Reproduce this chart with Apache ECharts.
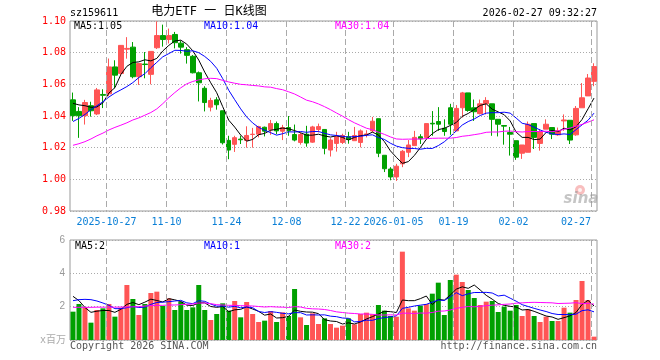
<!DOCTYPE html>
<html><head><meta charset="utf-8">
<script src="https://cdn.jsdelivr.net/npm/echarts@6/dist/echarts.min.js"></script>
<style>html,body{margin:0;padding:0;background:#fff}#c{width:660px;height:360px}</style>
</head><body><div id="c"></div>
<script>
const dates = ['2025-10-17',
'2025-10-20','2025-10-21','2025-10-22','2025-10-23','2025-10-24',
'2025-10-27','2025-10-28','2025-10-29','2025-10-30','2025-10-31',
'2025-11-03','2025-11-04','2025-11-05','2025-11-06','2025-11-07',
'2025-11-10','2025-11-11','2025-11-12','2025-11-13','2025-11-14',
'2025-11-17','2025-11-18','2025-11-19','2025-11-20','2025-11-21',
'2025-11-24','2025-11-25','2025-11-26','2025-11-27','2025-11-28',
'2025-12-01','2025-12-02','2025-12-03','2025-12-04','2025-12-05',
'2025-12-08','2025-12-09','2025-12-10','2025-12-11','2025-12-12',
'2025-12-15','2025-12-16','2025-12-17','2025-12-18','2025-12-19',
'2025-12-22','2025-12-23','2025-12-24','2025-12-25','2025-12-26',
'2025-12-29','2025-12-30','2025-12-31',
'2026-01-05','2026-01-06','2026-01-07','2026-01-08','2026-01-09',
'2026-01-12','2026-01-13','2026-01-14','2026-01-15','2026-01-16',
'2026-01-19','2026-01-20','2026-01-21','2026-01-22','2026-01-23',
'2026-01-26','2026-01-27','2026-01-28','2026-01-29','2026-01-30',
'2026-02-02','2026-02-03','2026-02-04','2026-02-05','2026-02-06',
'2026-02-09','2026-02-10','2026-02-11','2026-02-12','2026-02-13',
'2026-02-24','2026-02-25','2026-02-26','2026-02-27'];

const opens = [1.0502,1.0429,1.0402,1.0465,1.0413,1.0536,1.0540,1.0710,1.0669,1.0822,
1.0835,1.0648,1.0728,1.0663,1.0831,1.0908,1.0883,1.0915,1.0860,1.0819,
1.0777,1.0673,1.0575,1.0456,1.0502,1.0433,1.0246,1.0221,1.0254,1.0246,
1.0283,1.0285,1.0329,1.0313,1.0352,1.0304,1.0327,1.0283,1.0233,1.0285,
1.0235,1.0315,1.0315,1.0185,1.0227,1.0233,1.0269,1.0244,1.0233,1.0283,
1.0306,1.0383,1.0152,1.0065,1.0015,1.0098,1.0171,1.0213,1.0269,1.0265,
1.0354,1.0365,1.0323,1.0452,1.0306,1.0452,1.0546,1.0452,1.0415,1.0477,
1.0477,1.0379,1.0340,1.0296,1.0244,1.0165,1.0171,1.0352,1.0227,1.0317,
1.0327,1.0281,1.0369,1.0373,1.0281,1.0452,1.0527,1.0619];
const closes = [1.0402,1.0402,1.0485,1.0433,1.0565,1.0531,1.0710,1.0658,1.0846,1.0827,
1.0648,1.0731,1.0725,1.0808,1.0908,1.0883,1.0908,1.0863,1.0835,1.0783,
1.0673,1.0610,1.0485,1.0498,1.0471,1.0231,1.0185,1.0263,1.0250,1.0277,
1.0285,1.0333,1.0304,1.0352,1.0306,1.0327,1.0306,1.0248,1.0283,1.0229,
1.0331,1.0333,1.0196,1.0248,1.0269,1.0277,1.0252,1.0277,1.0306,1.0287,
1.0367,1.0165,1.0067,1.0015,1.0083,1.0177,1.0217,1.0265,1.0256,1.0352,
1.0350,1.0348,1.0302,1.0348,1.0448,1.0546,1.0435,1.0427,1.0477,1.0498,
1.0379,1.0348,1.0336,1.0285,1.0140,1.0217,1.0348,1.0265,1.0300,1.0348,
1.0285,1.0306,1.0375,1.0248,1.0448,1.0515,1.0640,1.0712];
const lows = [1.0369,1.0262,1.0346,1.0396,1.0406,1.0450,1.0525,1.0575,1.0660,1.0762,
1.0638,1.0596,1.0638,1.0600,1.0823,1.0838,1.0858,1.0827,1.0794,1.0731,
1.0669,1.0492,1.0429,1.0429,1.0440,1.0220,1.0127,1.0173,1.0223,1.0200,
1.0200,1.0265,1.0271,1.0281,1.0285,1.0248,1.0275,1.0240,1.0219,1.0206,
1.0231,1.0296,1.0158,1.0144,1.0175,1.0223,1.0225,1.0244,1.0202,1.0265,
1.0296,1.0140,1.0046,0.9994,0.9990,1.0077,1.0140,1.0213,1.0223,1.0254,
1.0275,1.0306,1.0275,1.0281,1.0306,1.0390,1.0427,1.0369,1.0410,1.0410,
1.0275,1.0271,1.0219,1.0150,1.0123,1.0129,1.0171,1.0192,1.0181,1.0317,
1.0254,1.0275,1.0306,1.0223,1.0275,1.0452,1.0527,1.0588];
const highs = [1.0548,1.0456,1.0502,1.0490,1.0577,1.0569,1.0763,1.0752,1.0848,1.0898,
1.0867,1.0731,1.0804,1.0808,1.0998,1.0977,1.0952,1.0931,1.0877,1.0835,
1.0785,1.0681,1.0588,1.0515,1.0519,1.0433,1.0275,1.0275,1.0275,1.0335,
1.0325,1.0338,1.0333,1.0375,1.0365,1.0344,1.0400,1.0346,1.0294,1.0338,
1.0338,1.0352,1.0315,1.0260,1.0300,1.0288,1.0300,1.0331,1.0315,1.0310,
1.0394,1.0383,1.0152,1.0077,1.0098,1.0185,1.0248,1.0306,1.0285,1.0352,
1.0431,1.0456,1.0379,1.0477,1.0469,1.0552,1.0546,1.0504,1.0504,1.0519,
1.0477,1.0379,1.0340,1.0331,1.0244,1.0217,1.0365,1.0352,1.0317,1.0379,
1.0327,1.0327,1.0410,1.0373,1.0463,1.0608,1.0665,1.0733];

const volumes = [1.70,2.16,1.96,1.04,1.80,1.90,2.16,1.40,1.94,3.30,
2.46,1.50,2.16,2.82,2.90,2.04,2.50,1.80,2.30,1.80,
1.96,3.30,1.80,1.20,1.56,2.20,1.76,2.34,1.36,2.28,
1.56,1.08,1.16,1.74,1.08,1.66,1.44,3.06,1.36,0.90,
1.60,0.96,1.30,0.96,0.74,0.86,1.30,0.94,1.56,1.64,
1.54,2.10,1.76,1.44,1.40,5.30,1.90,1.76,2.06,2.16,
2.78,3.44,1.50,3.60,3.92,3.48,3.00,2.52,2.10,2.30,
2.34,1.68,2.00,1.76,2.10,1.44,1.84,1.44,1.08,1.40,
1.14,1.14,1.94,1.64,2.40,3.54,2.40,0.20];

const ma5 = [1.0480,1.0470,1.0465,1.0455,1.0457,1.0483,1.0545,1.0579,1.0662,1.0714,
1.0738,1.0742,1.0755,1.0748,1.0764,1.0811,1.0846,1.0874,1.0879,1.0854,
1.0812,1.0753,1.0677,1.0610,1.0547,1.0459,1.0374,1.0330,1.0280,1.0241,
1.0252,1.0282,1.0290,1.0310,1.0316,1.0324,1.0319,1.0308,1.0294,1.0279,
1.0279,1.0285,1.0274,1.0267,1.0275,1.0265,1.0248,1.0265,1.0276,1.0280,
1.0298,1.0280,1.0238,1.0180,1.0139,1.0101,1.0112,1.0151,1.0200,1.0253,
1.0288,1.0314,1.0322,1.0340,1.0359,1.0398,1.0416,1.0441,1.0467,1.0477,
1.0443,1.0426,1.0408,1.0369,1.0298,1.0265,1.0265,1.0251,1.0254,1.0296,
1.0309,1.0301,1.0323,1.0312,1.0332,1.0378,1.0445,1.0513];
const ma10 = [1.0365,1.0385,1.0410,1.0440,1.0465,1.0490,1.0520,1.0545,1.0565,1.0586,
1.0611,1.0643,1.0667,1.0705,1.0739,1.0774,1.0794,1.0815,1.0814,1.0809,
1.0812,1.0800,1.0776,1.0745,1.0701,1.0636,1.0563,1.0503,1.0445,1.0394,
1.0356,1.0328,1.0310,1.0295,1.0279,1.0288,1.0300,1.0299,1.0302,1.0297,
1.0302,1.0302,1.0291,1.0281,1.0277,1.0272,1.0267,1.0270,1.0272,1.0278,
1.0281,1.0264,1.0252,1.0228,1.0210,1.0200,1.0196,1.0195,1.0190,1.0196,
1.0195,1.0213,1.0237,1.0270,1.0306,1.0343,1.0365,1.0381,1.0403,1.0418,
1.0421,1.0421,1.0424,1.0418,1.0387,1.0354,1.0346,1.0329,1.0312,1.0297,
1.0287,1.0283,1.0287,1.0283,1.0314,1.0344,1.0373,1.0418];
const ma30 = [1.0215,1.0225,1.0238,1.0255,1.0275,1.0292,1.0312,1.0328,1.0342,1.0357,
1.0375,1.0388,1.0405,1.0422,1.0445,1.0478,1.0515,1.0548,1.0578,1.0603,
1.0618,1.0628,1.0635,1.0638,1.0636,1.0625,1.0615,1.0607,1.0600,1.0597,
1.0593,1.0590,1.0584,1.0582,1.0573,1.0566,1.0553,1.0539,1.0520,1.0500,
1.0490,1.0476,1.0459,1.0440,1.0419,1.0399,1.0377,1.0357,1.0340,1.0323,
1.0313,1.0298,1.0284,1.0268,1.0255,1.0253,1.0254,1.0254,1.0255,1.0257,
1.0259,1.0260,1.0260,1.0260,1.0264,1.0272,1.0276,1.0282,1.0288,1.0297,
1.0299,1.0299,1.0304,1.0305,1.0301,1.0299,1.0302,1.0302,1.0302,1.0304,
1.0301,1.0306,1.0316,1.0324,1.0336,1.0347,1.0361,1.0376];

const vma5 = [2.62,2.36,1.95,1.66,1.73,1.77,1.77,1.66,1.84,2.14,
2.25,2.12,2.27,2.45,2.37,2.28,2.48,2.41,2.31,2.09,
2.07,2.23,2.23,2.01,1.96,2.01,1.70,1.81,1.84,1.99,
1.86,1.72,1.49,1.56,1.32,1.34,1.42,1.80,1.72,1.68,
1.67,1.58,1.22,1.14,1.11,0.96,1.03,0.96,1.08,1.26,
1.40,1.56,1.72,1.70,1.65,2.40,2.36,2.36,2.48,2.64,
2.13,2.44,2.39,2.70,3.05,3.19,3.10,3.30,3.00,2.68,
2.45,2.19,2.08,2.02,1.98,1.80,1.83,1.72,1.58,1.44,
1.38,1.24,1.34,1.45,1.65,2.13,2.38,2.04];
const vma10 = [2.36,2.42,2.44,2.42,2.34,2.22,2.08,1.88,1.88,1.94,
2.01,1.95,1.97,2.14,2.25,2.27,2.30,2.34,2.38,2.23,
2.18,2.36,2.32,2.16,2.03,2.04,1.97,2.02,1.93,1.98,
1.94,1.71,1.65,1.70,1.66,1.60,1.57,1.64,1.64,1.50,
1.51,1.50,1.51,1.43,1.40,1.32,1.30,1.09,1.11,1.19,
1.18,1.29,1.34,1.39,1.45,1.90,1.96,2.04,2.09,2.14,
2.27,2.40,2.37,2.59,2.84,2.66,2.77,2.85,2.85,2.86,
2.82,2.64,2.69,2.51,2.33,2.12,2.01,1.90,1.80,1.71,
1.59,1.53,1.53,1.52,1.55,1.76,1.81,1.69];
const vma30 = [1.96,1.96,1.96,1.96,1.97,1.97,1.97,1.97,1.98,1.98,
1.99,2.00,2.04,2.06,2.08,2.08,2.10,2.10,2.12,2.14,
2.16,2.22,2.22,2.18,2.12,2.10,2.08,2.08,2.06,2.05,
2.04,2.01,1.98,2.00,1.98,1.97,1.95,2.00,1.98,1.90,
1.87,1.86,1.83,1.77,1.69,1.65,1.61,1.59,1.56,1.56,
1.54,1.50,1.50,1.51,1.50,1.61,1.61,1.59,1.62,1.61,
1.65,1.73,1.74,1.80,1.90,1.96,2.01,1.99,2.02,2.06,
2.09,2.11,2.14,2.16,2.21,2.23,2.25,2.26,2.25,2.24,
2.23,2.19,2.20,2.21,2.24,2.18,2.20,2.15];

const tickDates = ['2025-10-27','2025-11-10','2025-11-24','2025-12-08','2025-12-22','2026-01-05','2026-01-19','2026-02-02','2026-02-27'];
const tickLabels = ['2025-10-27','11-10','11-24','12-08','12-22','2026-01-05','01-19','02-02','02-27'];

const UP = '#ff5555', DOWN = '#00a000';
const GRIDLINE = '#aaaaaa';
const MONO = '"DejaVu Sans Mono", "Liberation Mono", monospace';
const tickIdx = tickDates.map(d => dates.indexOf(d));

const chart = echarts.init(document.getElementById('c'));
const candleData = dates.map((d, i) => [opens[i], closes[i], lows[i], highs[i]]);
const volData = volumes.map((v, i) => ({value: v, itemStyle: {color: closes[i] >= opens[i] ? UP : DOWN}}));

// a dashed vertical rule built from small filled rects (6 on, 3 off)
function dashRects(x, top, bottom) {
  const out = [];
  for (let y = top; y < bottom; y += 9) {
    out.push({type: 'rect', shape: {x: x, y: y, width: 1, height: Math.min(6, bottom - y)},
      style: {fill: GRIDLINE}});
  }
  return out;
}

function makeTickRenderer(withLabel) {
  return function (params, api) {
    const cs = params.coordSys;
    const k = params.dataIndex;
    const p = api.coord([api.value(0), api.value(1)]);
    const x = Math.round(p[0]);
    const children = dashRects(x, cs.y, cs.y + cs.height);
    if (withLabel) {
      const last = k === tickIdx.length - 1;
      children.push({type: 'text', x: last ? x : x + 0.5, y: cs.y + cs.height + 11,
        style: {text: tickLabels[k], fill: '#0a7fd6', font: '10px ' + MONO,
          align: last ? 'right' : 'center', verticalAlign: 'middle'}});
    }
    return {type: 'group', children: children};
  };
}

function txt(text, x, y, color, align) {
  return {type: 'text', z: 100, style: {text: text, x: x, y: y, fill: color,
    font: '10px ' + MONO, textAlign: align || 'left', textVerticalAlign: 'middle'}};
}

const staticGraphics = [
  txt('sz159611', 70, 13, '#000'),
  {type: 'text', z: 100, style: {text: '电力ETF 一 日K线图', x: 209, y: 12, fill: '#000',
    font: '12px "DejaVu Sans Mono", "Noto Sans CJK SC", sans-serif', textAlign: 'center', textVerticalAlign: 'middle'}},
  txt('2026-02-27 09:32:27', 597, 13, '#000', 'right'),
  txt('MA5:1.05', 74, 26, '#000'),
  txt('MA10:1.04', 204, 26, '#0000ff'),
  txt('MA30:1.04', 335, 26, '#ff00ff'),
  txt('MA5:2', 75, 246, '#000'),
  txt('MA10:1', 204, 246, '#0000ff'),
  txt('MA30:2', 335, 246, '#ff00ff'),
  {type: 'text', z: 100, style: {text: 'x百万', x: 66, y: 340, fill: '#aaa',
    font: '10px "DejaVu Sans Mono", "Noto Sans CJK SC", sans-serif', textAlign: 'right', textVerticalAlign: 'middle'}},
  txt('Copyright 2026 SINA.COM', 70, 346, '#555'),
  txt('http://finance.sina.com.cn', 597, 346, '#555', 'right'),
  {type: 'circle', z: 100, shape: {cx: 580, cy: 190, r: 5}, style: {fill: 'rgba(240,110,110,0.45)'}},
  {type: 'circle', z: 100, shape: {cx: 580, cy: 190, r: 2}, style: {fill: 'rgba(255,255,255,0.8)'}},
  {type: 'text', z: 100, style: {text: 'sina', x: 581, y: 199, fill: 'rgba(150,150,150,0.55)',
    font: 'italic bold 15px "DejaVu Sans", sans-serif', textAlign: 'center', textVerticalAlign: 'middle'}}
];

const option = {
  animation: false,
  grid: [
    {left: 70, top: 21, width: 527, height: 190, show: true, borderColor: '#999', borderWidth: 1},
    {left: 70, top: 240, width: 527, height: 100, show: true, borderColor: '#999', borderWidth: 1}
  ],
  xAxis: [
    {type: 'category', gridIndex: 0, data: dates, axisLine: {show: false}, axisTick: {show: false},
     axisLabel: {show: false}, splitLine: {show: false}},
    {type: 'category', gridIndex: 1, data: dates, axisLine: {show: false}, axisTick: {show: false},
     axisLabel: {show: false}, splitLine: {show: false}},
    {type: 'value', gridIndex: 0, min: 0, max: dates.length, show: false},
    {type: 'value', gridIndex: 1, min: 0, max: dates.length, show: false}
  ],
  yAxis: [
    {type: 'value', gridIndex: 0, min: 0.98, max: 1.10, interval: 0.02,
     axisLine: {show: false}, axisTick: {show: false},
     splitLine: {show: true, lineStyle: {color: GRIDLINE, type: [1, 2], width: 1}},
     axisLabel: {color: '#ff0000', fontFamily: MONO, fontSize: 10, margin: 4, formatter: (v) => v.toFixed(2)}},
    {type: 'value', gridIndex: 1, min: 0, max: 6, interval: 2,
     axisLine: {show: false}, axisTick: {show: false},
     splitLine: {show: true, lineStyle: {color: GRIDLINE, type: [1, 2], width: 1}},
     axisLabel: {color: '#999', fontFamily: '"Liberation Sans", Arial, sans-serif', fontSize: 10, margin: 5,
       formatter: (v) => v === 0 ? '' : String(v)}}
  ],
  series: [
    {type: 'custom', xAxisIndex: 2, yAxisIndex: 0, z: 1, data: tickIdx.map(i => [i, 1.0]), renderItem: makeTickRenderer(true)},
    {type: 'custom', xAxisIndex: 3, yAxisIndex: 1, z: 1, data: tickIdx.map(i => [i, 1]), renderItem: makeTickRenderer(false)},
    {type: 'candlestick', xAxisIndex: 0, yAxisIndex: 0, data: candleData, barWidth: 5,
     itemStyle: {color: UP, color0: DOWN, borderColor: UP, borderColor0: DOWN, borderWidth: 1}},
    {type: 'line', xAxisIndex: 0, yAxisIndex: 0, data: ma5, showSymbol: false, lineStyle: {color: '#000', width: 1}},
    {type: 'line', xAxisIndex: 0, yAxisIndex: 0, data: ma10, showSymbol: false, lineStyle: {color: '#0000ff', width: 1}},
    {type: 'line', xAxisIndex: 0, yAxisIndex: 0, data: ma30, showSymbol: false, lineStyle: {color: '#ff00ff', width: 1}},
    {type: 'bar', xAxisIndex: 1, yAxisIndex: 1, data: volData, barWidth: 5},
    {type: 'line', xAxisIndex: 1, yAxisIndex: 1, data: vma5, showSymbol: false, lineStyle: {color: '#000', width: 1}},
    {type: 'line', xAxisIndex: 1, yAxisIndex: 1, data: vma10, showSymbol: false, lineStyle: {color: '#0000ff', width: 1}},
    {type: 'line', xAxisIndex: 1, yAxisIndex: 1, data: vma30, showSymbol: false, lineStyle: {color: '#ff00ff', width: 1}}
  ],
  graphic: staticGraphics
};
chart.setOption(option);

// the same dashed rules again as graphic rects (identical pixels), in case the series layer hides them
try {
  const spans = [
    [chart.convertToPixel({yAxisIndex: 0}, 1.10), chart.convertToPixel({yAxisIndex: 0}, 0.98)],
    [chart.convertToPixel({yAxisIndex: 1}, 6), chart.convertToPixel({yAxisIndex: 1}, 0)]
  ];
  const extra = [];
  tickIdx.forEach(i => {
    const px = chart.convertToPixel({xAxisIndex: 2}, i);
    if (typeof px !== 'number' || !isFinite(px)) return;
    const x = Math.round(px);
    spans.forEach(([t, b]) => {
      if (typeof t !== 'number' || typeof b !== 'number') return;
      dashRects(x, Math.round(t), Math.round(b)).forEach(r => { r.z = 50; extra.push(r); });
    });
  });
  if (extra.length) chart.setOption({graphic: staticGraphics.concat(extra)}, {replaceMerge: ['graphic']});
} catch (e) { /* keep the chart as drawn */ }
</script></body></html>
